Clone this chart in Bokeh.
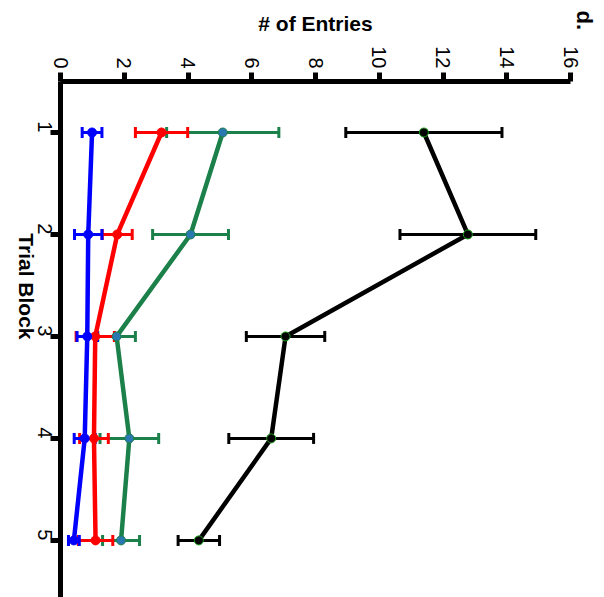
import math
from bokeh.plotting import figure
from bokeh.models import ColumnDataSource, Whisker, TeeHead, Range1d, FixedTicker, Title
from bokeh.embed import file_html
from bokeh.resources import INLINE

# Mean number of entries per trial block, with error (SEM) for each group
trial_blocks = [1, 2, 3, 4, 5]
black_mean = [11.4, 12.78, 7.06, 6.61, 4.34]
black_err = [2.45, 2.13, 1.23, 1.33, 0.65]
green_mean = [5.09, 4.08, 1.76, 2.16, 1.90]
green_err = [1.76, 1.19, 0.59, 0.92, 0.58]
red_mean = [3.17, 1.78, 1.09, 1.05, 1.10]
red_err = [0.82, 0.47, 0.60, 0.45, 0.54]
blue_mean = [0.99, 0.87, 0.84, 0.76, 0.42]
blue_err = [0.31, 0.43, 0.32, 0.33, 0.17]
entry_ticks = [0, 2, 4, 6, 8, 10, 12, 14, 16]

FONT = "Liberation Sans"

p = figure(
    width=604, height=597,
    x_range=Range1d(0, 16), y_range=Range1d(5.56, 0.5),
    x_axis_location="above",
    output_backend="svg", toolbar_location=None,
    min_border_left=60, min_border_right=34, min_border_top=81, min_border_bottom=0,
)
p.outline_line_color = None
p.grid.visible = False
p.background_fill_color = "white"
p.border_fill_color = "white"

# Axes: thick black lines, ticks outward, labels turned a quarter clockwise
for ax in (p.xaxis[0], p.yaxis[0]):
    ax.axis_line_width = 5
    ax.axis_line_color = "black"
    ax.major_tick_line_width = 5
    ax.major_tick_line_color = "black"
    ax.major_tick_in = 0
    ax.minor_tick_line_color = None
    ax.major_label_text_font = FONT
    ax.major_label_text_font_size = "20px"
    ax.major_label_text_color = "black"
    ax.major_label_orientation = -math.pi / 2
    ax.axis_label_text_font = FONT
    ax.axis_label_text_font_style = "bold"
    ax.axis_label_text_font_size = "21px"
    ax.axis_label_text_color = "black"

p.xaxis[0].ticker = FixedTicker(ticks=entry_ticks)
p.xaxis[0].axis_label = "# of Entries"
p.xaxis[0].major_tick_out = 9
p.xaxis[0].major_label_standoff = 4
p.xaxis[0].axis_label_standoff = 8

p.yaxis[0].ticker = FixedTicker(ticks=trial_blocks)
p.yaxis[0].axis_label = "Trial Block"
p.yaxis[0].axis_label_orientation = -math.pi / 2
p.yaxis[0].major_tick_out = 10
p.yaxis[0].major_label_standoff = 6
p.yaxis[0].major_label_text_align = "center"
p.yaxis[0].axis_label_standoff = 1


def add_series(mean, err, color, marker_fill, marker_line, width=4.5):
    src = ColumnDataSource(dict(
        y=trial_blocks, x=mean,
        lo=[m - e for m, e in zip(mean, err)],
        hi=[m + e for m, e in zip(mean, err)],
    ))
    p.line("x", "y", source=src, line_color=color, line_width=width)
    w = Whisker(
        source=src, base="y", lower="lo", upper="hi", dimension="width",
        line_color=color, line_width=3,
        lower_head=TeeHead(size=11, line_color=color, line_width=3),
        upper_head=TeeHead(size=11, line_color=color, line_width=3),
    )
    p.add_layout(w)
    p.scatter("x", "y", source=src, size=9, fill_color=marker_fill,
              line_color=marker_line, line_width=1)


add_series(black_mean, black_err, "black", "black", "#1aa01a")
add_series(green_mean, green_err, "#1b8049", "#2a78b0", "#1b8049")
add_series(red_mean, red_err, "#ff0000", "#ff0000", "#ff0000")
add_series(blue_mean, blue_err, "#0000ff", "#0000ff", "#0000ff")

# Panel letter: a side title on the right, shifted up into the top corner
p.add_layout(Title(
    text="d.", align="left", vertical_align="middle", offset=-71, standoff=0,
    text_font=FONT, text_font_style="bold", text_font_size="22px", text_color="black",
), "right")

open("out.html", "w").write(file_html(p, INLINE))
